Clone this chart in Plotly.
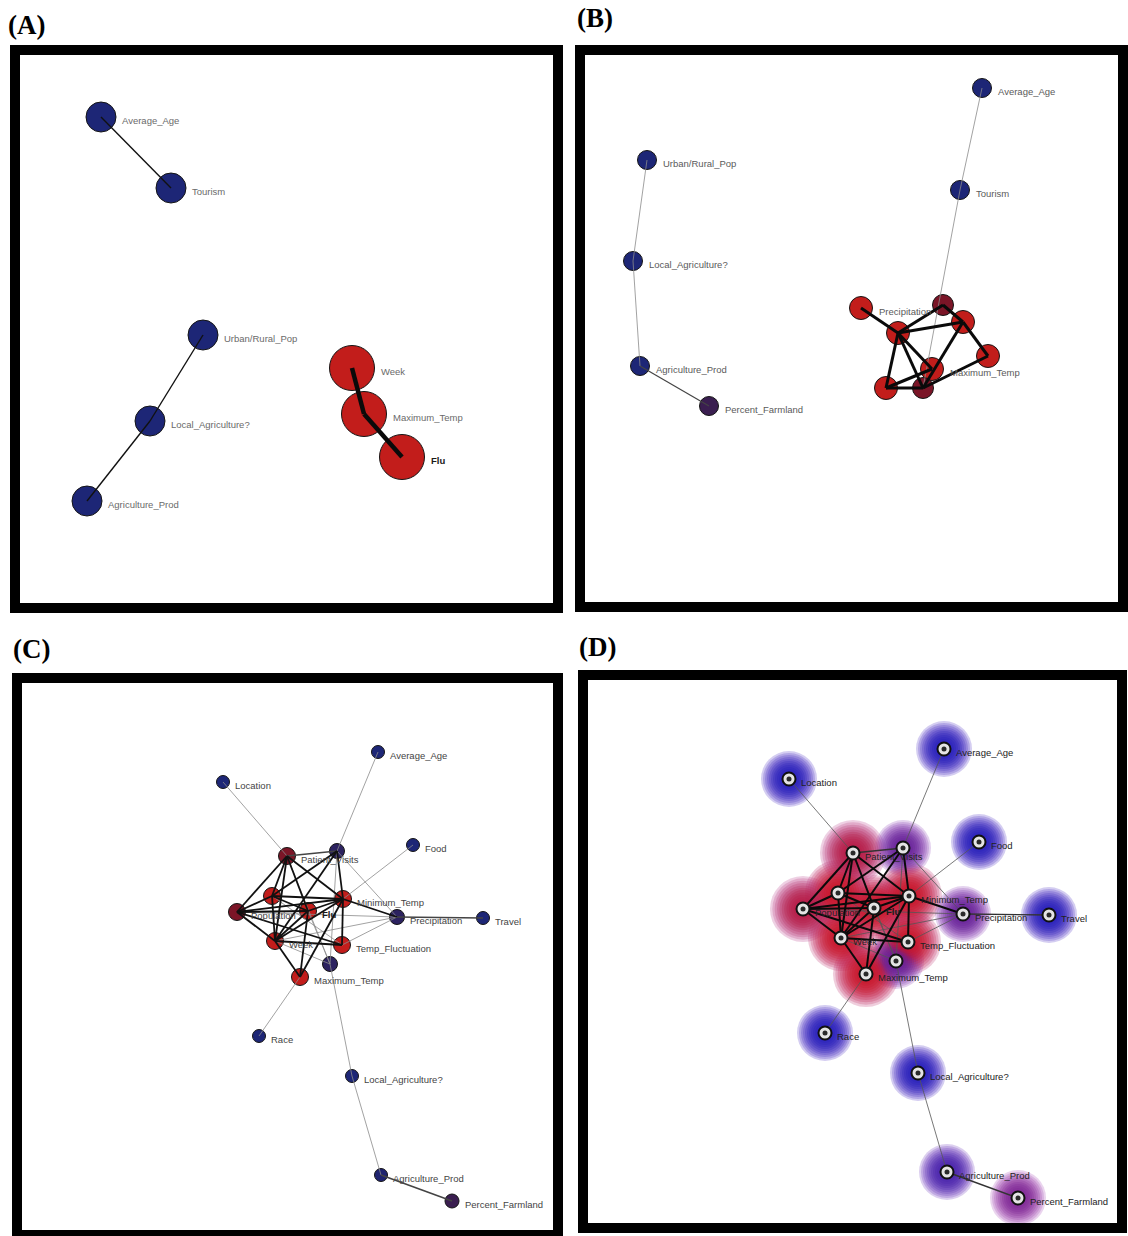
import plotly.graph_objects as go

W, H = 1128, 1236

# ---------------------------------------------------------------------------
# Panel A: two chains of descriptive attributes and the Flu trio
# ---------------------------------------------------------------------------
A_ids = ["Average_Age", "Tourism", "Urban/Rural_Pop", "Local_Agriculture?",
         "Agriculture_Prod", "Week", "Maximum_Temp", "Flu"]
A_labels = A_ids
A_x = [91, 161, 193, 140, 77, 342, 354, 392]
A_y = [72, 143, 290, 376, 456, 323, 369, 412]
A_group = ["blue", "blue", "blue", "blue", "blue", "red", "red", "red"]
A_edges_light = [("Average_Age", "Tourism"),
                 ("Urban/Rural_Pop", "Local_Agriculture?"),
                 ("Local_Agriculture?", "Agriculture_Prod")]
A_edges_heavy = [("Week", "Maximum_Temp"), ("Maximum_Temp", "Flu")]

# ---------------------------------------------------------------------------
# Panel B: weather cluster with two attribute chains
# ---------------------------------------------------------------------------
B_ids = ["Average_Age", "Tourism", "Urban/Rural_Pop", "Local_Agriculture?",
         "Agriculture_Prod", "Percent_Farmland", "Precipitation", "n1", "n2",
         "n3", "n4", "Maximum_Temp", "n5", "n6"]
B_labels = ["Average_Age", "Tourism", "Urban/Rural_Pop", "Local_Agriculture?",
            "Agriculture_Prod", "Percent_Farmland", "Precipitation", "", "",
            "", "", "Maximum_Temp", "", ""]
B_x = [407, 385, 72, 58, 65, 134, 286, 323, 368, 388, 413, 357, 311, 348]
B_y = [43, 145, 115, 216, 321, 361, 263, 288, 260, 277, 311, 324, 343, 343]
B_group = ["blue", "blue", "blue", "blue", "blue", "purple", "red", "red",
           "darkred", "red", "red", "red", "red", "darkred"]
B_edges_light = [("Average_Age", "Tourism"), ("Tourism", "n6"),
                 ("Urban/Rural_Pop", "Local_Agriculture?"),
                 ("Local_Agriculture?", "Agriculture_Prod")]
B_edges_mid = [("Agriculture_Prod", "Percent_Farmland")]
B_edges_heavy = [("Precipitation", "n1"), ("n1", "n2"), ("n1", "n3"),
                 ("n1", "n5"), ("n1", "n6"), ("n1", "Maximum_Temp"),
                 ("n2", "n3"), ("n3", "n4"), ("n3", "n6"), ("n4", "n6"),
                 ("n5", "n6"), ("n5", "Maximum_Temp")]

# ---------------------------------------------------------------------------
# Panels C and D: full network (same layout, two renderings)
# ---------------------------------------------------------------------------
N_ids = ["Average_Age", "Location", "Food", "Patient_Visits", "v1", "r1",
         "Population", "Flu", "Minimum_Temp", "Precipitation", "Travel",
         "Week", "Temp_Fluctuation", "v2", "Maximum_Temp", "Race",
         "Local_Agriculture?", "Agriculture_Prod", "Percent_Farmland"]
N_labels = ["Average_Age", "Location", "Food", "Patient_Visits", "", "",
            "Population", "Flu", "Minimum_Temp", "Precipitation", "Travel",
            "Week", "Temp_Fluctuation", "", "Maximum_Temp", "Race",
            "Local_Agriculture?", "Agriculture_Prod", "Percent_Farmland"]
N_x = [366, 211, 401, 275, 325, 260, 225, 296, 331, 385, 471, 263, 330, 318,
       288, 247, 340, 369, 440]
N_y = [79, 109, 172, 183, 178, 223, 239, 238, 226, 244, 245, 268, 272, 291,
       304, 363, 403, 502, 528]
N_group = ["blue", "blue", "blue", "darkred", "violet", "red", "darkred",
           "red", "red", "violet", "blue", "red", "red", "violet", "red",
           "blue", "blue", "blueviolet", "purple"]
N_edges_light = [("Location", "Patient_Visits"), ("Average_Age", "v1"),
                 ("Food", "Minimum_Temp"), ("Race", "Maximum_Temp"),
                 ("v1", "v2"), ("v2", "Local_Agriculture?"),
                 ("Local_Agriculture?", "Agriculture_Prod"),
                 ("v1", "Precipitation"), ("Week", "Precipitation"),
                 ("Temp_Fluctuation", "Precipitation"), ("Week", "v2"),
                 ("Patient_Visits", "v2"), ("r1", "Temp_Fluctuation"),
                 ("Population", "Precipitation"), ("Flu", "v2")]
N_edges_mid = [("Precipitation", "Travel"),
               ("Agriculture_Prod", "Percent_Farmland"),
               ("Patient_Visits", "v1")]
N_edges_heavy = [("Patient_Visits", "r1"), ("Patient_Visits", "Population"),
                 ("Patient_Visits", "Flu"), ("Patient_Visits", "Week"),
                 ("Patient_Visits", "Minimum_Temp"), ("r1", "Population"),
                 ("r1", "Week"), ("r1", "Minimum_Temp"), ("r1", "Flu"),
                 ("Population", "Flu"), ("Population", "Minimum_Temp"),
                 ("Population", "Week"), ("Population", "Temp_Fluctuation"),
                 ("Flu", "Minimum_Temp"), ("Flu", "Week"),
                 ("Flu", "Maximum_Temp"), ("Minimum_Temp", "Week"),
                 ("Minimum_Temp", "Temp_Fluctuation"),
                 ("Minimum_Temp", "Maximum_Temp"),
                 ("Minimum_Temp", "Precipitation"),
                 ("Week", "Temp_Fluctuation"), ("Week", "Maximum_Temp"),
                 ("v1", "r1"), ("v1", "Minimum_Temp"), ("v1", "Week")]

# ---------------------------------------------------------------------------
# Styling
# ---------------------------------------------------------------------------
FILL = {
    "blue": "#1d2676", "blueviolet": "#1f2470", "violet": "#2c2260",
    "purple": "#3a1e50", "red": "#c21d1b", "darkred": "#7b1527",
}
# glow colours for panel D: (core, fringe)
GLOW = {
    "blue": ((34, 26, 185), (90, 60, 200)),
    "blueviolet": ((68, 32, 170), (120, 70, 195)),
    "violet": ((100, 32, 150), (150, 80, 190)),
    "purple": ((125, 36, 145), (175, 90, 190)),
    "red": ((200, 20, 38), (195, 60, 120)),
    "darkred": ((180, 24, 65), (190, 75, 145)),
}
LABEL_FONT = "Liberation Sans, Arial, sans-serif"

# outer frame of each panel in page pixels: left, top, right, bottom
FRAMES = {"A": (10, 45, 563, 613), "B": (575, 45, 1128, 612),
          "C": (12, 673, 563, 1240), "D": (578, 670, 1127, 1233)}
TITLE_POS = {"A": (7, 25), "B": (576, 18), "C": (12, 649), "D": (578, 647)}

fig = go.Figure()
layout = dict(width=W, height=H, autosize=False,
              margin=dict(l=0, r=0, t=0, b=0, pad=0),
              paper_bgcolor="white", plot_bgcolor="white",
              showlegend=False, shapes=[], annotations=[])

refs = {}
for i, p in enumerate(["A", "B", "C", "D"], start=1):
    l, t, r, b = FRAMES[p]
    rr, bb = min(r, W), min(b, H)
    sfx = "" if i == 1 else str(i)
    refs[p] = ("x" + sfx, "y" + sfx)
    layout["xaxis" + sfx] = dict(domain=[l / W, rr / W], range=[0, rr - l],
                                 visible=False, fixedrange=True,
                                 anchor="y" + sfx)
    layout["yaxis" + sfx] = dict(domain=[1 - bb / H, 1 - t / H],
                                 range=[bb - t, 0], visible=False,
                                 fixedrange=True, anchor="x" + sfx)
    layout["shapes"].append(dict(type="rect", xref="x" + sfx, yref="y" + sfx,
                                 x0=5, y0=5, x1=(r - l) - 5, y1=(b - t) - 5,
                                 line=dict(color="black", width=10),
                                 fillcolor="rgba(0,0,0,0)", layer="above"))
    tx, ty = TITLE_POS[p]
    layout["annotations"].append(dict(
        x=tx / W, y=1 - ty / H, xref="paper", yref="paper",
        text=f"<b>({p})</b>", showarrow=False, xanchor="left",
        yanchor="middle", borderpad=0,
        font=dict(family="Liberation Serif, Times New Roman, serif",
                  size=27, color="black")))


def edge_xy(ids, xs, ys, edges):
    pos = {n: (x, y) for n, x, y in zip(ids, xs, ys)}
    ex, ey = [], []
    for a, b in edges:
        ex += [pos[a][0], pos[b][0], None]
        ey += [pos[a][1], pos[b][1], None]
    return ex, ey


def add_edges(panel, ids, xs, ys, edges, width, color):
    if not edges:
        return
    xr, yr = refs[panel]
    ex, ey = edge_xy(ids, xs, ys, edges)
    fig.add_trace(go.Scatter(x=ex, y=ey, mode="lines", xaxis=xr, yaxis=yr,
                             line=dict(color=color, width=width),
                             hoverinfo="skip"))


def add_nodes(panel, xs, ys, groups, sizes):
    xr, yr = refs[panel]
    fig.add_trace(go.Scatter(
        x=xs, y=ys, mode="markers", xaxis=xr, yaxis=yr,
        marker=dict(size=[sizes[g] for g in groups], opacity=1,
                    color=[FILL[g] for g in groups],
                    line=dict(color="#151515", width=1)),
        hoverinfo="skip"))


def add_labels(panel, xs, ys, labels, groups, sizes, pad, color, size=9.5):
    """Labels sit just to the right of each node's rim."""
    xr, yr = refs[panel]
    for x, y, lab, g in zip(xs, ys, labels, groups):
        if not lab:
            continue
        bold = lab == "Flu"
        dx = sizes[g] / 2 + pad if sizes else pad
        layout["annotations"].append(dict(
            x=x + dx, y=y + 3.5, xref=xr, yref=yr,
            text=f"<b>{lab}</b>" if bold else lab, showarrow=False,
            xanchor="left", yanchor="middle", borderpad=0,
            font=dict(family=LABEL_FONT, size=size,
                      color="#1a1a1a" if bold else color)))


# ---- Panel A ----
A_sizes = {"blue": 30, "red": 45}
add_nodes("A", A_x, A_y, A_group, A_sizes)
add_edges("A", A_ids, A_x, A_y, A_edges_light, 1.4, "#111111")
add_edges("A", A_ids, A_x, A_y, A_edges_heavy, 4.5, "#0a0a0a")
add_labels("A", A_x, A_y, A_labels, A_group, A_sizes, 5, "#6a6a6a")

# ---- Panel B ----
B_sizes = {"blue": 19, "purple": 19, "red": 23, "darkred": 21}
add_nodes("B", B_x, B_y, B_group, B_sizes)
add_edges("B", B_ids, B_x, B_y, B_edges_light, 0.8, "#8a8a8a")
add_edges("B", B_ids, B_x, B_y, B_edges_mid, 1.2, "#444444")
add_edges("B", B_ids, B_x, B_y, B_edges_heavy, 3, "#0a0a0a")
add_labels("B", B_x, B_y, B_labels, B_group, B_sizes, 5.5, "#5a5a5a")

# ---- Panel C ----
C_sizes = {"blue": 13, "blueviolet": 13, "violet": 15, "purple": 14,
           "red": 17, "darkred": 17}
add_nodes("C", N_x, N_y, N_group, C_sizes)
add_edges("C", N_ids, N_x, N_y, N_edges_light, 0.8, "#8a8a8a")
add_edges("C", N_ids, N_x, N_y, N_edges_mid, 1.6, "#444444")
add_edges("C", N_ids, N_x, N_y, N_edges_heavy, 1.8, "#111111")
add_labels("C", N_x, N_y, N_labels, N_group, C_sizes, 4.5, "#444444")

# ---- Panel D: heat-glow rendering of the same network ----
# the glow is built from many faint concentric discs, outermost first
xr, yr = refs["D"]
glow_sizes = list(range(56, 14, -4))
n_layers = len(glow_sizes)
for k, s in enumerate(glow_sizes):
    t = k / (n_layers - 1)
    cols, sizes = [], []
    for g in N_group:
        core, fringe = GLOW[g]
        rgb = tuple(round(fringe[j] + (core[j] - fringe[j]) * min(1, t * 1.8))
                    for j in range(3))
        cols.append("rgb(%d,%d,%d)" % rgb)
        sizes.append(s * (1.18 if g in ("red", "darkred") else 1.0))
    fig.add_trace(go.Scatter(
        x=N_x, y=N_y, mode="markers", xaxis=xr, yaxis=yr,
        marker=dict(size=sizes, color=cols, opacity=0.26, line=dict(width=0)),
        hoverinfo="skip"))
add_edges("D", N_ids, N_x, N_y, N_edges_light, 0.8, "#555555")
add_edges("D", N_ids, N_x, N_y, N_edges_mid, 1.4, "#333333")
add_edges("D", N_ids, N_x, N_y, N_edges_heavy, 2, "#0a0a0a")
fig.add_trace(go.Scatter(
    x=N_x, y=N_y, mode="markers", xaxis=xr, yaxis=yr,
    marker=dict(size=13, color="#e4e4e4", opacity=1,
                line=dict(color="#111111", width=2)),
    hoverinfo="skip"))
fig.add_trace(go.Scatter(
    x=N_x, y=N_y, mode="markers", xaxis=xr, yaxis=yr,
    marker=dict(size=5, color="#2a2a2a", opacity=1, line=dict(width=0)),
    hoverinfo="skip"))
add_labels("D", N_x, N_y, N_labels, N_group, None, 11, "#222222")

fig.update_layout(**layout)
fig.write_html("out.html")
